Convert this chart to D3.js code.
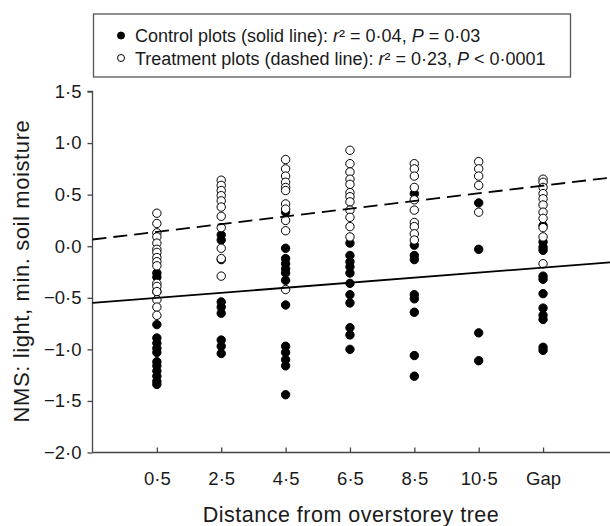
<!DOCTYPE html>
<html><head><meta charset="utf-8">
<script src="https://cdn.jsdelivr.net/npm/d3@7/dist/d3.min.js"></script>
<style>body{margin:0;background:#fff}svg{display:block}text{font-family:"Liberation Sans",Arial,sans-serif;fill:#1a1a1a}</style>
</head><body>
<script>
const categories = ["0·5","2·5","4·5","6·5","8·5","10·5","Gap"];
const yTicks = [1.5,1.0,0.5,0.0,-0.5,-1.0,-1.5,-2.0];
const controlValues = [
  [-0.26,-0.30,-0.44,-0.76,-0.89,-0.94,-0.99,-1.03,-1.12,-1.16,-1.21,-1.26,-1.31,-1.34],
  [0.11,0.06,-0.13,-0.54,-0.59,-0.65,-0.91,-0.97,-1.04],
  [0.33,-0.02,-0.12,-0.17,-0.22,-0.26,-0.33,-0.57,-0.97,-1.03,-1.10,-1.16,-1.44],
  [0.03,-0.09,-0.15,-0.20,-0.26,-0.36,-0.47,-0.55,-0.79,-0.86,-1.00],
  [0.51,0.01,-0.09,-0.13,-0.47,-0.51,-0.64,-1.06,-1.26],
  [0.42,-0.03,-0.84,-1.11],
  [0.20,0.04,-0.01,-0.04,-0.29,-0.32,-0.46,-0.60,-0.67,-0.71,-0.98,-1.01]
];
const treatmentValues = [
  [0.32,0.22,0.13,0.09,0.03,-0.03,-0.06,-0.11,-0.15,-0.19,-0.36,-0.39,-0.44,-0.52,-0.59,-0.67],
  [0.64,0.59,0.54,0.49,0.44,0.38,0.29,0.18,-0.02,-0.12,-0.29],
  [0.84,0.75,0.68,0.62,0.57,0.54,0.41,0.36,0.25,0.15,-0.42],
  [0.93,0.80,0.72,0.65,0.60,0.52,0.48,0.43,0.35,0.28,0.19,0.09],
  [0.80,0.75,0.68,0.57,0.45,0.35,0.23,0.19,0.12,0.06],
  [0.82,0.75,0.68,0.59,0.33],
  [0.65,0.62,0.57,0.51,0.46,0.40,0.33,0.27,0.18,0.09,-0.17]
];
// regression lines: value at category index -1 and slope per category step
const controlLine = {start: -0.55, slope: 0.049};
const treatmentLine = {start: 0.065, slope: 0.0746};
const legendLines = [
  {filled:true, parts:[["Control plots (solid line): ",""],["r","i"],["² = 0·04, ",""],["P","i"],[" = 0·03",""]]},
  {filled:false, parts:[["Treatment plots (dashed line): ",""],["r","i"],["² = 0·23, ",""],["P","i"],[" < 0·0001",""]]}
];

const W = 610, H = 526;
const FF = '"Liberation Sans",Arial,sans-serif';
const svg = d3.select("body").append("svg").attr("width", W).attr("height", H);
const x = d3.scaleLinear().domain([-1, 7.04]).range([92.5, 610]);
const y = d3.scaleLinear().domain([-2, 1.5]).range([452.5, 91.5]);
const fmt = v => (v < 0 ? "\u2212" : "") + Math.abs(v).toFixed(1).replace(".", "·");

// axes
const yAxis = svg.append("g").attr("transform", `translate(${x(-1)},0)`)
  .call(d3.axisLeft(y).tickValues(yTicks).tickFormat(fmt).tickSize(5).tickPadding(6));
yAxis.select(".domain").attr("d", `M-5,${y(1.5)}H0V${y(-2)}`);
yAxis.selectAll("text").attr("font-size", 18.5).style("font-family", FF).attr("fill", "#1a1a1a");
const xAxis = svg.append("g").attr("transform", `translate(0,${y(-2)})`)
  .call(d3.axisBottom(x).tickValues(d3.range(categories.length)).tickFormat(i => categories[i]).tickSizeInner(-5).tickSizeOuter(0).tickPadding(19));
xAxis.select(".domain").attr("d", `M${x(-1)},0H${W}`);
xAxis.selectAll("text").attr("font-size", 18.5).style("font-family", FF).attr("fill", "#1a1a1a");
svg.selectAll(".domain, .tick line").attr("stroke", "#444").attr("stroke-width", 1.3);

// points
const pts = [];
controlValues.forEach((arr, i) => arr.forEach(v => pts.push({i, v, f: true})));
treatmentValues.forEach((arr, i) => arr.forEach(v => pts.push({i, v, f: false})));
svg.append("g").selectAll("circle").data(pts).join("circle")
  .attr("cx", d => x(d.i)).attr("cy", d => y(d.v)).attr("r", 4.2)
  .attr("fill", d => d.f ? "#000" : "#fff").attr("stroke", "#000").attr("stroke-width", 1);

// regression lines
const lineGen = L => [[-1, L.start], [7.04, L.start + L.slope * 8.04]];
const lg = d3.line().x(d => x(d[0])).y(d => y(d[1]));
svg.append("path").attr("d", lg(lineGen(controlLine))).attr("stroke", "#000").attr("stroke-width", 1.8).attr("fill", "none");
svg.append("path").attr("d", lg(lineGen(treatmentLine))).attr("stroke", "#000").attr("stroke-width", 1.8).attr("fill", "none").attr("stroke-dasharray", "14,7");

// axis titles
svg.append("text").attr("x", 351).attr("y", 522).attr("text-anchor", "middle").attr("font-size", 21.5).attr("letter-spacing", 0.5).text("Distance from overstorey tree");
svg.append("text").attr("transform", "translate(28.5,271) rotate(-90)").attr("text-anchor", "middle").attr("font-size", 22).attr("letter-spacing", 0.6).text("NMS: light, min. soil moisture");

// legend
const leg = svg.append("g");
leg.append("rect").attr("x", 93.5).attr("y", 14).attr("width", 477).attr("height", 63).attr("fill", "#fff").attr("stroke", "#555").attr("stroke-width", 1.3);
legendLines.forEach((L, k) => {
  const cy = 35.5 + k * 22.5;
  leg.append("circle").attr("cx", 121).attr("cy", cy).attr("r", 3.5).attr("fill", L.filled ? "#000" : "#fff").attr("stroke", "#000");
  const t = leg.append("text").attr("x", 135).attr("y", cy + 6.5).attr("font-size", 18);
  L.parts.forEach(p => t.append("tspan").attr("font-style", p[1] === "i" ? "italic" : "normal").text(p[0]));
});
</script>
</body></html>
